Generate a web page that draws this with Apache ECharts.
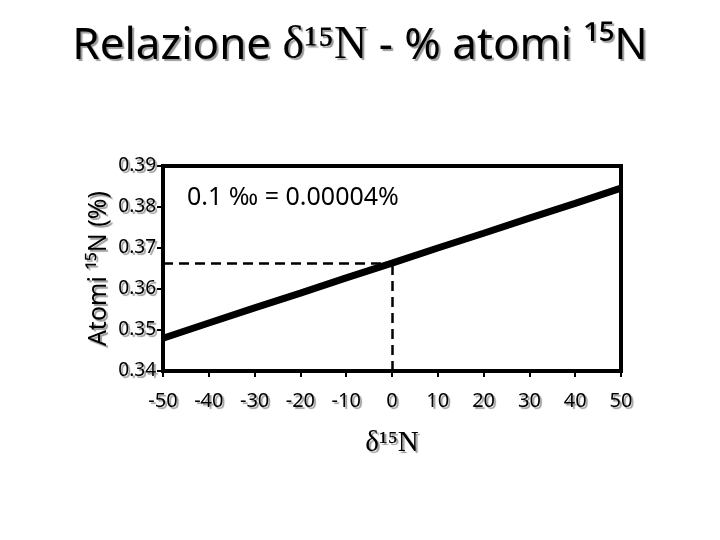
<!DOCTYPE html>
<html>
<head>
<meta charset="utf-8">
<script src="https://cdn.jsdelivr.net/npm/echarts@6/dist/echarts.min.js"></script>
<style>html,body{margin:0;padding:0;background:#fff}#c{width:720px;height:540px}</style>
</head>
<body>
<div id="c"></div>
<script>
const deltaValues = [-50, -40, -30, -20, -10, 0, 10, 20, 30, 40, 50];
const atomPercent = [0.3480, 0.3517, 0.3554, 0.3590, 0.3627, 0.3663, 0.3700, 0.3736, 0.3773, 0.3809, 0.3846];
const refDelta = 0;
const refAtom = 0.3663;
const xTicks = {min: -50, max: 50, interval: 10};
const yTicks = {min: 0.34, max: 0.39, interval: 0.01};
const annotation = '0.1 ‰ = 0.00004%';

const shadow = {textShadowColor: '#9a9a9a', textShadowOffsetX: 2, textShadowOffsetY: 2, textShadowBlur: 1};
const font = 'Noto Sans';

const chart = echarts.init(document.getElementById('c'), null, {renderer: 'canvas'});
chart.setOption({
  animation: false,
  backgroundColor: '#fff',
  title: {
    text: '{a|Relazione }{b|δ¹⁵N}{a| - % atomi ¹⁵N}',
    left: 'center',
    top: 18,
    textStyle: {
      rich: {
        a: Object.assign({fontFamily: font, fontSize: 44, fontWeight: 'normal', color: '#000'}, shadow),
        b: Object.assign({fontFamily: 'Liberation Serif', fontSize: 46, fontWeight: 'normal', color: '#000'}, shadow)
      }
    }
  },
  grid: {left: 163, right: 99, top: 166, bottom: 169, show: true, borderColor: '#000', borderWidth: 4, backgroundColor: 'transparent'},
  xAxis: {
    type: 'value', min: xTicks.min, max: xTicks.max, interval: xTicks.interval,
    axisLine: {show: false, onZero: false},
    axisTick: {show: true, length: 6, lineStyle: {color: '#000', width: 2}},
    splitLine: {show: false},
    axisLabel: Object.assign({fontFamily: font, fontSize: 20, color: '#000', margin: 20}, shadow),
    name: 'δ¹⁵N', nameLocation: 'middle', nameGap: 58, nameMoveOverlap: false,
    nameTextStyle: Object.assign({fontFamily: 'Liberation Serif', fontSize: 29, color: '#000'}, shadow)
  },
  yAxis: {
    type: 'value', min: yTicks.min, max: yTicks.max, interval: yTicks.interval,
    axisLine: {show: false, onZero: false},
    axisTick: {show: true, length: 6, lineStyle: {color: '#000', width: 2}},
    splitLine: {show: false},
    axisLabel: Object.assign({fontFamily: font, fontSize: 19, color: '#000', margin: 7, formatter: v => v.toFixed(2)}, shadow),
    name: 'Atomi ¹⁵N (%)', nameLocation: 'middle', nameGap: 52, nameMoveOverlap: false,
    nameTextStyle: Object.assign({fontFamily: font, fontSize: 25, color: '#000'}, shadow)
  },
  graphic: [{
    type: 'text', left: 187, top: 185,
    style: {text: annotation, font: '25px "Noto Sans"', fill: '#000', shadowColor: '#9a9a9a', shadowOffsetX: 2, shadowOffsetY: 2, shadowBlur: 1}
  }],
  series: [{
    type: 'line',
    data: deltaValues.map((d, i) => [d, atomPercent[i]]),
    showSymbol: false,
    lineStyle: {color: '#000', width: 7},
    z: 3,
    markLine: {
      silent: true, symbol: 'none', animation: false,
      lineStyle: {color: '#000', type: [10, 6], width: 2.5},
      label: {show: false},
      data: [
        [{coord: [xTicks.min, refAtom]}, {coord: [refDelta, refAtom]}],
        [{coord: [refDelta, yTicks.min]}, {coord: [refDelta, refAtom]}]
      ]
    }
  }]
});
</script>
</body>
</html>
